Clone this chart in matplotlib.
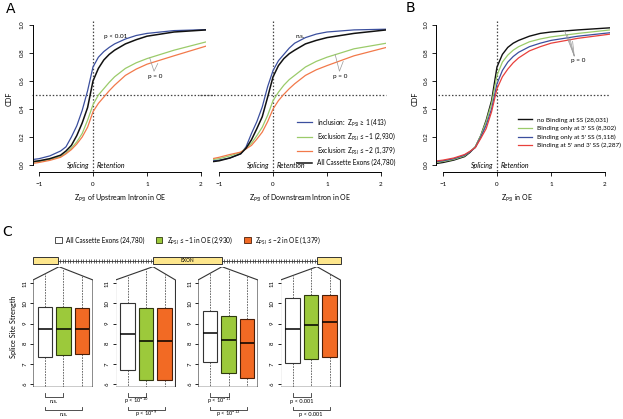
import numpy as np
import matplotlib
matplotlib.use('Agg')
import matplotlib.pyplot as plt
from matplotlib.patches import Patch, Polygon, Rectangle

plt.rcParams['font.family'] = ['Lato', 'DejaVu Sans']
plt.rcParams['mathtext.fontset'] = 'custom'
plt.rcParams['mathtext.rm'] = 'Lato'
plt.rcParams['mathtext.it'] = 'Lato:italic'
plt.rcParams['axes.linewidth'] = 0.7

W, H = 623, 419
ZP = r'$\mathrm{Z}_{\mathrm{PSI}}$'

## data: CDF curves
z = [-1.1, -1.0, -0.8, -0.6, -0.5, -0.4, -0.3, -0.2, -0.1, 0, 0.1, 0.2, 0.3, 0.4, 0.6, 0.8, 1.0, 1.5, 2.1]

up_incl = [.04, .045, .065, .10, .13, .20, .28, .39, .53, .70, .77, .81, .84, .865, .90, .925, .94, .96, .967]
up_all = [.025, .03, .045, .07, .10, .14, .21, .30, .41, .60, .69, .75, .79, .82, .865, .895, .92, .95, .965]
up_ex1 = [.02, .025, .04, .06, .085, .12, .165, .225, .32, .43, .50, .545, .59, .63, .69, .73, .76, .82, .88]
up_ex2 = [.012, .018, .033, .055, .08, .11, .15, .20, .27, .38, .44, .485, .53, .57, .64, .685, .72, .78, .85]

dn_incl = [.03, .035, .05, .08, .13, .225, .31, .415, .56, .675, .745, .79, .835, .87, .91, .935, .95, .965, .97]
dn_all = [.025, .03, .05, .08, .12, .18, .26, .345, .485, .63, .71, .76, .795, .82, .865, .89, .91, .94, .965]
dn_ex1 = [.04, .045, .065, .09, .12, .155, .21, .27, .355, .46, .52, .57, .61, .64, .70, .74, .77, .83, .87]
dn_ex2 = [.047, .055, .075, .092, .115, .14, .185, .235, .31, .40, .46, .505, .545, .58, .64, .68, .71, .78, .84]

b_none = [.012, .018, .035, .06, .09, .13, .21, .32, .46, .70, .79, .84, .87, .89, .92, .94, .95, .965, .98]
b_3ss = [.02, .025, .04, .065, .095, .13, .21, .31, .44, .64, .735, .785, .82, .845, .88, .90, .915, .94, .965]
b_5ss = [.025, .03, .045, .07, .095, .125, .20, .285, .40, .58, .675, .735, .775, .805, .845, .87, .89, .92, .945]
b_both = [.03, .035, .05, .075, .098, .125, .19, .26, .38, .545, .63, .685, .73, .765, .815, .845, .87, .905, .935]

lab_a = ['Inclusion:  ' + ZP + ' ≥ 1 (413)',
         'Exclusion: ' + ZP + ' ≤ −1 (2,930)',
         'Exclusion: ' + ZP + ' ≤ −2 (1,379)',
         'All Cassette Exons (24,780)']
lab_b = ['no Binding at SS (28,031)', "Binding only at 3' SS (8,302)",
         "Binding only at 5' SS (5,118)", "Binding at 5' and 3' SS (2,287)"]

## data: splice site strength boxes (q1, median, q3) per panel
box_q1 = [[7.36, 7.44, 7.50], [6.72, 6.22, 6.19], [7.09, 6.57, 6.32], [7.03, 7.22, 7.32]]
box_med = [[8.72, 8.72, 8.75], [8.48, 8.13, 8.12], [8.55, 8.21, 8.05], [8.72, 8.93, 9.06]]
box_q3 = [[9.84, 9.84, 9.76], [10.04, 9.76, 9.76], [9.64, 9.37, 9.23], [10.25, 10.42, 10.42]]
p_near = ['n.s.', r'p < 10$^{-10}$', r'p < 10$^{-11}$', 'p < 0.001']
p_far = ['n.s.', r'p < 10$^{-9}$', r'p < 10$^{-13}$', 'p < 0.001']
lab_c = ['All Cassette Exons (24,780)', ZP + ' ≤ −1 in OE (2,930)', ZP + ' ≤ −2 in OE (1,379)']

c_blue = '#3b4f9e'
c_green = '#9bcb6a'
c_orange = '#f2794a'
c_red = '#e8403c'
box_cols = ['white', '#9cc93b', '#f26a24']
box_edges = ['#333333', '#2f3a10', '#4a1e08']
dot = (0, (1.2, 1.5))


def px_axes(fig, l, t, r, b):
    return fig.add_axes([l / W, 1 - b / H, (r - l) / W, (b - t) / H])


def cdf_axes(ax, yaxis=True):
    ax.set_xlim(-1.12, 2.1)
    ax.set_ylim(-0.07, 1.02)
    ax.spines['top'].set_visible(False)
    ax.spines['right'].set_visible(False)
    ax.spines['bottom'].set_position(('data', -0.05))
    ax.spines['bottom'].set_bounds(-1, 2)
    ax.set_xticks([-1, 0, 1, 2])
    ax.set_xticklabels(['−1', '0', '1', '2'])
    ax.tick_params(axis='x', labelsize=4.5, length=3, width=0.6, pad=4)
    if yaxis:
        ax.spines['left'].set_bounds(0, 1)
        ax.set_yticks([0, 0.2, 0.4, 0.6, 0.8, 1.0])
        ax.set_yticklabels(['0.0', '0.2', '0.4', '0.6', '0.8', '1.0'], rotation=90, va='center')
        ax.tick_params(axis='y', labelsize=4.5, length=3, width=0.6, pad=2.5)
        ax.set_ylabel('CDF', fontsize=5.2)
        ax.yaxis.set_label_coords(-0.115, 0.5)
    else:
        ax.spines['left'].set_visible(False)
        ax.set_yticks([])
    ax.plot([0, 0], [-0.045, 1.03], color='#444444', lw=0.9, ls=dot, clip_on=False)
    ax.text(-0.07, -0.005, 'Splicing', ha='right', va='center', fontsize=5, style='italic')
    ax.text(0.07, -0.005, 'Retention', ha='left', va='center', fontsize=5, style='italic')


fig = plt.figure(figsize=(W / 100, H / 100), dpi=100)

## A upstream
ax1 = px_axes(fig, 32.5, 22.2, 206.4, 174.8)
cdf_axes(ax1)
ax1.plot([-1.12, 2.45], [0.5, 0.5], color='#444444', lw=0.9, ls=dot, clip_on=False)
ax1.plot(z, up_incl, color=c_blue, lw=0.9)
ax1.plot(z, up_ex1, color=c_green, lw=0.9)
ax1.plot(z, up_ex2, color=c_orange, lw=0.9)
ax1.plot(z, up_all, color='#111111', lw=1.1)
ax1.text(0.42, 0.915, 'p < 0.01', fontsize=4.6, ha='center', va='center')
ax1.plot([1.05, 1.13, 1.2], [0.765, 0.67, 0.725], color='#999999', lw=0.5)
ax1.text(1.15, 0.635, 'p = 0', fontsize=4.6, ha='center', va='center')
ax1.set_xlabel(ZP + ' of Upstream Intron in OE', fontsize=5)
ax1.xaxis.set_label_coords(0.503, -0.12)

## A downstream
ax2 = px_axes(fig, 212.6, 22.2, 386.4, 174.8)
cdf_axes(ax2, yaxis=False)
ax2.plot([-1.35, 2.1], [0.5, 0.5], color='#444444', lw=0.9, ls=dot, clip_on=False)
la = ax2.plot(z, dn_incl, color=c_blue, lw=0.9)
lg = ax2.plot(z, dn_ex1, color=c_green, lw=0.9)
lo = ax2.plot(z, dn_ex2, color=c_orange, lw=0.9)
lk = ax2.plot(z, dn_all, color='#111111', lw=1.1)
ax2.text(0.5, 0.915, 'n.s.', fontsize=4.6, ha='center', va='center')
ax2.plot([1.15, 1.23, 1.3], [0.79, 0.67, 0.74], color='#999999', lw=0.5)
ax2.text(1.25, 0.635, 'p = 0', fontsize=4.6, ha='center', va='center')
ax2.legend(la + lg + lo + lk, lab_a, fontsize=4.7, frameon=False, handlelength=2.3,
           handletextpad=0.7, labelspacing=0.45, loc='upper left',
           bbox_to_anchor=(294 / W, 1 - 113 / H), bbox_transform=fig.transFigure, borderpad=0)
ax2.set_xlabel(ZP + ' of Downstream Intron in OE', fontsize=5)
ax2.xaxis.set_label_coords(0.503, -0.12)

## B
ax3 = px_axes(fig, 436.5, 22.2, 610.4, 174.8)
cdf_axes(ax3)
ax3.plot([-1.1, 2.1], [0.5, 0.5], color='#444444', lw=0.9, ls=dot)
b1 = ax3.plot(z, b_none, color='#111111', lw=1.0)
b2 = ax3.plot(z, b_3ss, color=c_green, lw=0.9)
b3 = ax3.plot(z, b_5ss, color=c_blue, lw=0.9)
b4 = ax3.plot(z, b_both, color=c_red, lw=0.9)
for xx, yy in [(1.25, 0.958), (1.3, 0.933), (1.35, 0.905), (1.4, 0.883)]:
    ax3.plot([xx, 1.43], [yy, 0.78], color='#999999', lw=0.5)
ax3.text(1.5, 0.745, 'p = 0', fontsize=4.6, ha='center', va='center')
ax3.legend(b1 + b2 + b3 + b4, lab_b, fontsize=4.6, frameon=False, handlelength=2.2,
           handletextpad=0.7, labelspacing=0.48, loc='upper left',
           bbox_to_anchor=(515 / W, 1 - 114 / H), bbox_transform=fig.transFigure, borderpad=0)
ax3.set_xlabel(ZP + ' in OE', fontsize=5)
ax3.xaxis.set_label_coords(0.46, -0.12)
ax3.yaxis.set_label_coords(-0.1, 0.5)

## C boxplots
peaks = [59, 153, 222, 317]
top, bot = 266.7, 387.3
for i in range(4):
    L = 33 + 82.5 * i
    ax = px_axes(fig, L, top, L + 60, bot)
    ax.set_xlim(1 - 12 / 18.5, 3 + 11 / 18.5)
    ax.set_ylim(5.84, 11.82)
    for s in ax.spines.values():
        s.set_visible(False)
    pk = (peaks[i] - L) / 60
    sh = (bot - 280) / (bot - top)
    frame = Polygon([(0, 0), (0, sh), (pk, 1), (1, sh), (1, 0)], closed=True, fill=False,
                    edgecolor='#333333', lw=0.8, transform=ax.transAxes)
    ax.add_patch(frame)
    stats = []
    for j in range(3):
        stats.append(dict(med=box_med[i][j], q1=box_q1[i][j], q3=box_q3[i][j],
                          whislo=4.0, whishi=13.0, fliers=[]))
    bp = ax.bxp(stats, positions=[1, 2, 3], widths=0.8, showcaps=False, showfliers=False,
                patch_artist=True,
                whiskerprops=dict(color='#555555', lw=0.6, ls=(0, (2, 1.3))),
                medianprops=dict(color='black', lw=1.1))
    for j, b in enumerate(bp['boxes']):
        b.set_facecolor(box_cols[j])
        b.set_edgecolor(box_edges[j])
        b.set_linewidth(0.8)
        b.set_zorder(3)
    for m in bp['medians']:
        m.set_zorder(4)
    for w in bp['whiskers']:
        w.set_clip_path(frame)
    ax.set_xticks([])
    ax.set_yticks([6, 7, 8, 9, 10, 11])
    ax.set_yticklabels(['6', '7', '8', '9', '10', '11'], rotation=90, va='center')
    ax.tick_params(axis='y', labelsize=4.3, length=2.5, width=0.6, pad=1.5)
    tr = ax.get_xaxis_transform()
    ax.plot([1, 1, 2, 2], [-0.047, -0.078, -0.078, -0.047], color='#333333', lw=0.6,
            transform=tr, clip_on=False)
    ax.text(1.5, -0.115, p_near[i], fontsize=4.1, ha='center', va='center', transform=tr)
    ax.plot([1, 1, 3, 3], [-0.16, -0.19, -0.19, -0.16], color='#333333', lw=0.6,
            transform=tr, clip_on=False)
    ax.text(2, -0.222, p_far[i], fontsize=4.1, ha='center', va='center', transform=tr)
    if i == 0:
        ax.set_ylabel('Splice Site Strength', fontsize=5.2, labelpad=4)

## overlay: letters, gene diagram, legend C
ov = fig.add_axes([0, 0, 1, 1])
ov.set_xlim(0, W)
ov.set_ylim(H, 0)
ov.axis('off')
ov.text(11, 9, 'A', fontsize=10, ha='center', va='center', family='DejaVu Sans')
ov.text(410, 8, 'B', fontsize=10, ha='center', va='center', family='DejaVu Sans')
ov.text(7, 232, 'C', fontsize=10, ha='center', va='center', family='DejaVu Sans')
for x0, w in [(33, 25), (153, 69), (317, 24)]:
    ov.add_patch(Rectangle((x0, 256.7), w, 7.6, facecolor='#fde68c', edgecolor='#333333', lw=0.7))
ov.text(187.5, 260.6, 'EXON', fontsize=3.5, ha='center', va='center')
for x0, x1 in [(58, 153), (222, 317)]:
    ov.plot([x0, x1], [260.5, 260.5], color='#333333', lw=0.6)
    ticks = np.arange(x0 + 2, x1 - 1, 2.6)
    ov.plot(ticks, np.full(len(ticks), 260.5), ls='none', marker='|', ms=2.6, mew=0.5,
            color='#333333')

handles = [Patch(facecolor=box_cols[k], edgecolor=box_edges[k], lw=0.6) for k in range(3)]
fig.legend(handles, lab_c, ncol=3, fontsize=4.7, frameon=False, loc='center left',
           bbox_to_anchor=(52 / W, 1 - 240 / H), handlelength=1.0, handleheight=1.0,
           handletextpad=0.7, columnspacing=1.7, borderpad=0)

fig.savefig('out.png', dpi=100)
